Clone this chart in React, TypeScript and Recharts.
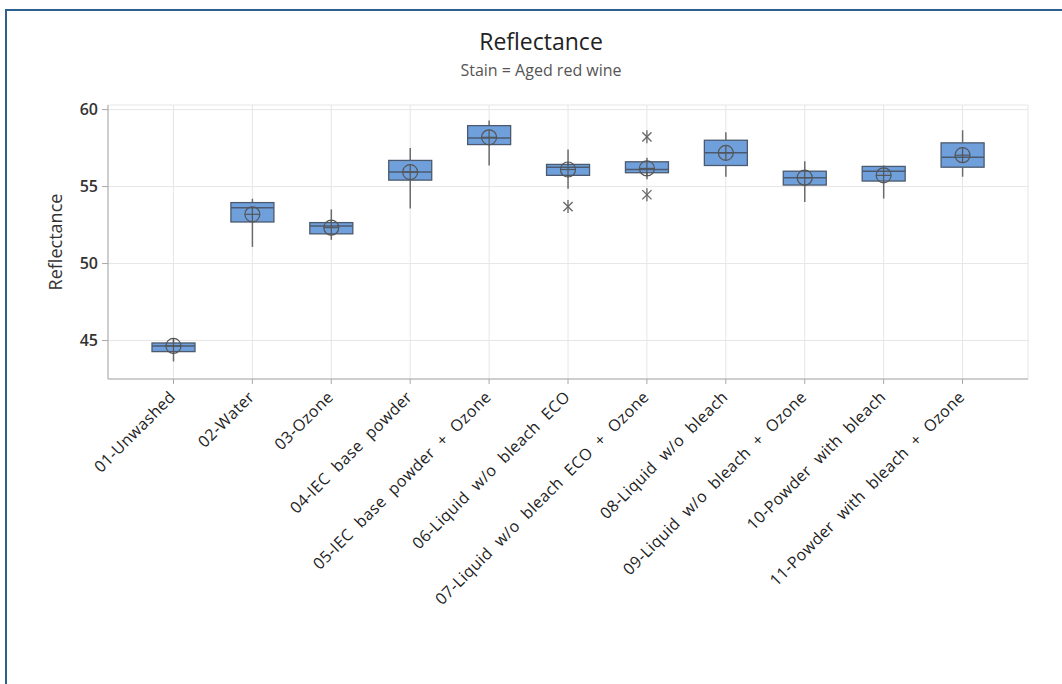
import React from 'react';
import { ComposedChart, Bar, Line, XAxis, YAxis, CartesianGrid } from 'recharts';

// boxplot of reflectance for each wash treatment
const categories = [
  '01-Unwashed',
  '02-Water',
  '03-Ozone',
  '04-IEC base powder',
  '05-IEC base powder + Ozone',
  '06-Liquid w/o bleach ECO',
  '07-Liquid w/o bleach ECO + Ozone',
  '08-Liquid w/o bleach',
  '09-Liquid w/o bleach + Ozone',
  '10-Powder with bleach',
  '11-Powder with bleach + Ozone',
];
const q1Values = [44.28, 52.7, 51.93, 55.42, 57.73, 55.73, 55.9, 56.37, 55.1, 55.36, 56.26];
const q3Values = [44.84, 53.96, 52.66, 56.7, 58.96, 56.44, 56.61, 58.01, 56.0, 56.31, 57.84];
const medianValues = [44.65, 53.63, 52.44, 55.94, 58.16, 56.26, 56.11, 57.19, 55.58, 56.0, 56.91];
const meanValues = [44.65, 53.2, 52.33, 55.94, 58.2, 56.11, 56.18, 57.19, 55.58, 55.73, 57.04];
const whiskerLow = [43.64, 51.08, 51.54, 53.57, 56.37, 54.86, 55.47, 55.64, 54.0, 54.22, 55.64];
const whiskerHigh = [45.17, 54.21, 53.52, 57.5, 59.29, 57.41, 56.87, 58.53, 56.65, 56.37, 58.66];
const outlierHigh = [null, null, null, null, null, null, 58.23, null, null, null, null];
const outlierLow = [null, null, null, null, null, 53.7, 54.47, null, null, null, null];
const yTicks = [45, 50, 55, 60];

const FONT = '"Open Sans", "Noto Sans", sans-serif';

const data = categories.map((name, i) => ({
  name,
  box: [q1Values[i], q3Values[i]],
  q1: q1Values[i],
  q3: q3Values[i],
  median: medianValues[i],
  mean: meanValues[i],
  lo: whiskerLow[i],
  hi: whiskerHigh[i],
  outHigh: outlierHigh[i],
  outLow: outlierLow[i],
}));

const BoxShape = (props: any) => {
  const { x, y, width, height, payload } = props;
  const top = Math.min(y, y + height);
  const h = Math.abs(height);
  const ppu = h / (payload.q3 - payload.q1); // pixels per unit, from the bar's own scale
  const cx = x + width / 2;
  const toY = (v: number) => top + (payload.q3 - v) * ppu;
  return (
    <g>
      <line x1={cx} x2={cx} y1={toY(payload.hi)} y2={top} stroke="#6b6b6b" strokeWidth={1.5} />
      <line x1={cx} x2={cx} y1={top + h} y2={toY(payload.lo)} stroke="#6b6b6b" strokeWidth={1.5} />
      <rect x={x} y={top} width={width} height={h} fill="#6fa0dc" stroke="#4b5a6e" strokeWidth={1.3} />
      <line x1={x} x2={x + width} y1={toY(payload.median)} y2={toY(payload.median)} stroke="#4b5a6e" strokeWidth={1.5} />
    </g>
  );
};

const MeanDot = (props: any) => {
  const { cx, cy, index } = props;
  if (cx == null || cy == null) return <g key={`m-${index}`} />;
  const r = 7.5;
  return (
    <g key={`m-${index}`} stroke="#555" strokeWidth={1.2} fill="none">
      <circle cx={cx} cy={cy} r={r} />
      <line x1={cx - r} x2={cx + r} y1={cy} y2={cy} />
      <line x1={cx} x2={cx} y1={cy - r} y2={cy + r} />
    </g>
  );
};

const StarDot = (props: any) => {
  const { cx, cy, index, value } = props;
  if (value == null || cx == null || cy == null) return <g key={`s-${index}`} />;
  const r = 6.5;
  const a = r * Math.cos(Math.PI / 4);
  return (
    <g key={`s-${index}`} stroke="#666" strokeWidth={1.3}>
      <line x1={cx} x2={cx} y1={cy - r} y2={cy + r} />
      <line x1={cx - a} x2={cx + a} y1={cy - a} y2={cy + a} />
      <line x1={cx - a} x2={cx + a} y1={cy + a} y2={cy - a} />
    </g>
  );
};

const XTick = (props: any) => {
  const { x, y, payload } = props;
  return (
    <g transform={`translate(${x + 3},${y + 12})`}>
      <text
        textAnchor="end"
        transform="rotate(-45)"
        fontSize={16}
        fill="#222"
        fontFamily={FONT}
        style={{ letterSpacing: '0.4px', wordSpacing: '5px' }}
      >
        {payload.value}
      </text>
    </g>
  );
};

const YLabel = (props: any) => {
  const { viewBox } = props;
  const x = viewBox.x + 55;
  const y = viewBox.y + viewBox.height / 2;
  return (
    <text x={x} y={y} transform={`rotate(-90, ${x}, ${y})`} textAnchor="middle" dominantBaseline="central"
      fontSize={18} fill="#333" fontFamily={FONT}>
      Reflectance
    </text>
  );
};

const App: React.FC = () => {
  return (
    <div style={{ position: 'absolute', left: 0, top: 0, width: 1062, height: 684, background: '#fff', overflow: 'hidden' }}>
      <div style={{ position: 'absolute', left: 5, top: 9, width: 1100, height: 700, borderTop: '2px solid #2d5f8f', borderLeft: '2px solid #2d5f8f' }} />
      <div style={{ position: 'absolute', left: 0, width: 1082, top: 26, textAlign: 'center', fontFamily: FONT, fontSize: 23, color: '#222', lineHeight: '30px', fontWeight: 500 }}>
        Reflectance
      </div>
      <div style={{ position: 'absolute', left: 0, width: 1082, top: 59, textAlign: 'center', fontFamily: FONT, fontSize: 16, color: '#555', lineHeight: '22px' }}>
        Stain = Aged red wine
      </div>
      <ComposedChart width={1062} height={684} data={data} margin={{ top: 105, right: 34, bottom: 0, left: 0 }}>
        <CartesianGrid stroke="#e6e6e6" strokeWidth={1} />
        <XAxis
          dataKey="name"
          height={305}
          interval={0}
          padding={{ left: 26, right: 26 }}
          tick={<XTick />}
          tickSize={5}
          tickMargin={2}
          stroke="#a8a8a8"
        />
        <XAxis xAxisId="top" dataKey="name" orientation="top" height={0} tick={false} tickLine={false} stroke="#a8a8a8" />
        <YAxis
          width={108}
          domain={[42.5, 60.3]}
          ticks={yTicks}
          tickSize={6}
          tickMargin={4}
          stroke="#a8a8a8"
          tick={{ fontSize: 16, fontWeight: 600, fill: '#333', fontFamily: FONT }}
          label={<YLabel />}
        />
        <YAxis yAxisId="right" orientation="right" width={0} domain={[0, 1]} tick={false} tickLine={false} stroke="#a8a8a8" />
        <Bar dataKey="box" barSize={43} shape={<BoxShape />} isAnimationActive={false} />
        <Line dataKey="mean" stroke="none" dot={MeanDot} activeDot={false} isAnimationActive={false} />
        <Line dataKey="outHigh" stroke="none" dot={StarDot} activeDot={false} isAnimationActive={false} />
        <Line dataKey="outLow" stroke="none" dot={StarDot} activeDot={false} isAnimationActive={false} />
      </ComposedChart>
    </div>
  );
};

export default App;
